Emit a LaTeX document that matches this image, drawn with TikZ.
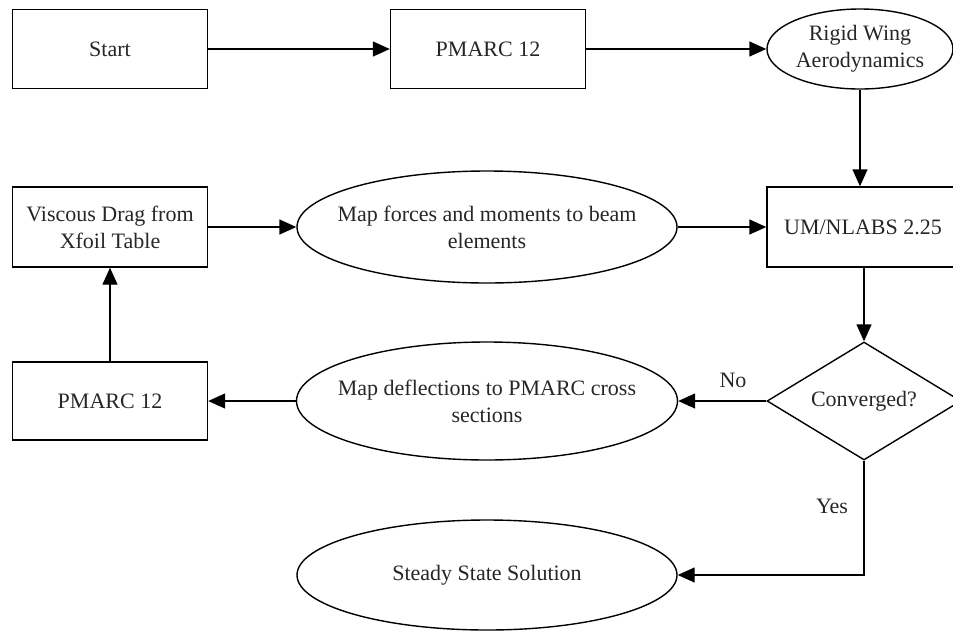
\documentclass[tikz,border=0pt]{standalone}
\usepackage{fontspec}
\setmainfont{Liberation Serif}
\usetikzlibrary{shapes.geometric,arrows.meta}
\begin{document}
\begin{tikzpicture}[x=1pt,y=-1pt,
  every node/.style={font=\fontsize{22}{27}\selectfont, text=black!85, align=center, inner sep=0pt},
  boxnode/.style={draw, line width=1.4pt, rectangle, minimum width=195pt, minimum height=79pt},
  ovalnode/.style={draw, line width=1.4pt, ellipse, inner sep=-40pt},
  decnode/.style={draw, line width=1.4pt, diamond, inner sep=-30pt, minimum width=194pt, minimum height=118pt},
  flow/.style={line width=1.4pt, -{Triangle[length=17pt,width=15pt]}},
  lbl/.style={font=\fontsize{22}{26}\selectfont}
]
\useasboundingbox (0,0) rectangle (953,630);
\clip (0,0) rectangle (953,630);
\node[boxnode] (start) at (110,49) {Start};
\node[boxnode] (pm1) at (488,49) {PMARC 12};
\node[ovalnode, minimum width=186pt, minimum height=80pt] (rigid) at (860,49) {Rigid Wing\\Aerodynamics};
\node[boxnode, minimum width=192pt, minimum height=80pt] (um) at (863,227) {UM/NLABS 2.25};
\node[decnode] (conv) at (864,401) {Converged?};
\node[ovalnode, minimum width=381pt, minimum height=118pt] (defl) at (487,401) {Map deflections to PMARC cross\\sections};
\node[boxnode, minimum height=78pt] (pm2) at (110,401) {PMARC 12};
\node[boxnode, minimum height=80pt] (visc) at (110,227) {Viscous Drag from\\Xfoil Table};
\node[ovalnode, minimum width=380pt, minimum height=112pt] (forces) at (487,227) {Map forces and moments to beam\\elements};
\node[ovalnode, minimum width=380pt, minimum height=110pt] (steady) at (487,575) {Steady State Solution};
\node[lbl] (no) at (733,380) {No};
\node[lbl] (yes) at (832,506) {Yes};

\draw[flow] (start.east) -- (pm1.west);
\draw[flow] (pm1.east) -- (rigid.west);
\draw[flow] (rigid.south) -- (rigid.south |- um.north);
\draw[flow] (um.south -| conv.north) -- (conv.north);
\draw[flow] (visc.east) -- (forces.west);
\draw[flow] (forces.east) -- (um.west);
\draw[flow] (conv.west) -- (defl.east);
\draw[flow] (defl.west) -- (pm2.east);
\draw[flow] (pm2.north) -- (visc.south);
\draw[flow] (conv.south) |- (steady.east);
\end{tikzpicture}
\end{document}
